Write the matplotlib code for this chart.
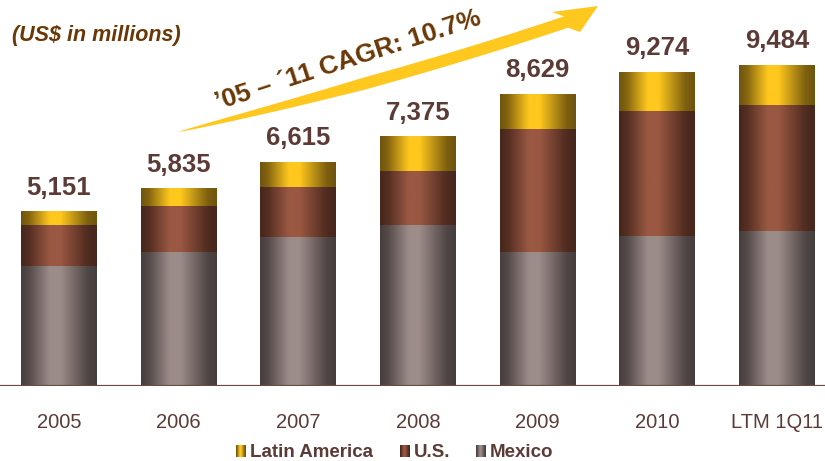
import numpy as np
import matplotlib
matplotlib.use("Agg")
import matplotlib.pyplot as plt
from matplotlib.patches import Polygon

plt.rcParams['font.family'] = ['Liberation Sans', 'DejaVu Sans']

years = ['2005', '2006', '2007', '2008', '2009', '2010', 'LTM 1Q11']
totals = [5151, 5835, 6615, 7375, 8629, 9274, 9484]
mexico = [3550, 3960, 4405, 4760, 3960, 4435, 4585]
us = [1210, 1360, 1480, 1600, 3640, 3700, 3725]
# Latin America is whatever is left of the labelled total
latam = [t - m - u for t, m, u in zip(totals, mexico, us)]

series = [
    ('Mexico', mexico, '#463e3d', '#9c8c89'),
    ('U.S.', us, '#47261c', '#9a5842'),
    ('Latin America', latam, '#6f540e', '#ffc81e'),
]

TXT = '#5c3b36'
BROWN = '#6a3806'
W, H = 825, 461


def gradient(dark, light, n=200):
    # cylinder-like horizontal shading: dark edges, highlight left of centre
    p = np.linspace(0, 1, n)
    s = np.interp(p, [0, 0.1, 0.38, 0.52, 0.88, 1], [0.0, 0.15, 1, 1, 0.1, 0])
    d = np.array(matplotlib.colors.to_rgb(dark))
    l = np.array(matplotlib.colors.to_rgb(light))
    return (d + (l - d) * s[:, None])[None, :, :]


fig = plt.figure(figsize=(W / 100, H / 100), dpi=100)
ax = fig.add_axes([0, 75 / H, 1, 386 / H])
x = np.arange(len(years))

bottom = np.zeros(len(years))
for name, vals, dark, light in series:
    bars = ax.bar(x, vals, 0.635, bottom=bottom, color='none', linewidth=0)
    img = gradient(dark, light)
    for b in bars:
        ax.imshow(img, extent=[b.get_x(), b.get_x() + b.get_width(),
                               b.get_y(), b.get_y() + b.get_height()],
                  aspect='auto', interpolation='bilinear', zorder=2)
    bottom += np.array(vals)

ax.set_xlim(-0.493, 6.401)
ax.set_ylim(0, 11414)
ax.axhline(0, color='#6b4a42', lw=1.6, zorder=3)
for s in ax.spines.values():
    s.set_visible(False)
ax.set_xticks([])
ax.set_yticks([])

for i, t in enumerate(totals):
    ax.annotate(f'{t:,}', (i, t), xytext=(0, 12.3), textcoords='offset points',
                ha='center', va='baseline', fontsize=18.5, fontweight='bold',
                color=TXT)
    ax.text(i, -42 / 386, years[i], transform=ax.get_xaxis_transform(),
            ha='center', va='baseline', fontsize=14.5, color=TXT)

# overlay in pixel units for the title, growth arrow and legend
ov = fig.add_axes([0, 0, 1, 1], zorder=5)
ov.patch.set_alpha(0)

ov.text(12, 41, '(US$ in millions)', fontsize=15.5, fontweight='bold',
        fontstyle='italic', color=BROWN, ha='left', va='baseline')

# tapered curved arrow
p0, p1, p2 = np.array([178, 132]), np.array([400, 78]), np.array([566, 22])
t = np.linspace(0, 1, 80)[:, None]
c = (1 - t) ** 2 * p0 + 2 * t * (1 - t) * p1 + t ** 2 * p2
d = 2 * (1 - t) * (p1 - p0) + 2 * t * (p2 - p1)
d /= np.linalg.norm(d, axis=1, keepdims=True)
nrm = np.column_stack([-d[:, 1], d[:, 0]])
w = 12 * np.minimum(1, t[:, 0] / 0.45) ** 0.7
upper = c - nrm * w[:, None] / 2
lower = c + nrm * w[:, None] / 2
head = np.array([[552, 12], [598, 6], [580, 32]])
pts = np.vstack([upper, head, lower[::-1]])
ov.add_patch(Polygon(pts, closed=True, facecolor='#ffc81e', edgecolor='none'))

ov.text(350, 67, '\u201905 \u2013 \u00b411 CAGR: 10.7%', fontsize=19,
        fontweight='bold', color=BROWN, rotation=18, rotation_mode='anchor',
        ha='center', va='baseline')

# legend
legend_items = [('Latin America', 236, '#6f540e', '#ffc81e'),
                ('U.S.', 400, '#47261c', '#9a5842'),
                ('Mexico', 476, '#463e3d', '#9c8c89')]
for label, lx, dark, light in legend_items:
    ov.imshow(gradient(dark, light, 40), extent=[lx, lx + 10, 457, 445],
              aspect='auto', interpolation='bilinear')
    ov.text(lx + 14, 457, label, fontsize=13.5, fontweight='bold', color=TXT,
            ha='left', va='baseline')

ov.set_xlim(0, W)
ov.set_ylim(H, 0)
ov.axis('off')

fig.savefig('out.png', dpi=100, facecolor='white')
